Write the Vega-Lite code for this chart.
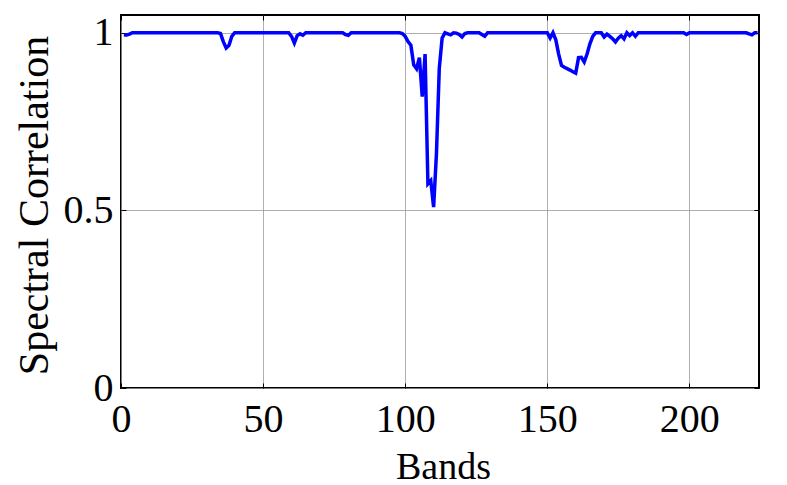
{
  "$schema": "https://vega.github.io/schema/vega-lite/v6.json",
  "width": 638,
  "height": 373,
  "autosize": "none",
  "padding": {"left": 121, "top": 15, "right": 28, "bottom": 97},
  "background": "white",
  "config": {
    "font": "Liberation Serif",
    "view": {"stroke": "black", "strokeWidth": 2},
    "axis": {
      "domain": false,
      "labelFont": "Liberation Serif",
      "labelFontSize": 40,
      "labelColor": "black",
      "titleFont": "Liberation Serif",
      "titleFontSize": 38,
      "titleFontWeight": "normal",
      "titleColor": "black",
      "gridColor": "#9a9a9a",
      "gridWidth": 0.8,
      "tickColor": "black",
      "tickWidth": 1,
      "tickSize": -5
    }
  },
  "data": {
    "values": [
      {"band": 1, "corr": 0.994}, {"band": 2, "corr": 0.994}, {"band": 3, "corr": 0.996}, {"band": 4, "corr": 1.0},
      {"band": 5, "corr": 1.0}, {"band": 6, "corr": 1.0}, {"band": 7, "corr": 1.0}, {"band": 8, "corr": 1.0},
      {"band": 9, "corr": 1.0}, {"band": 10, "corr": 1.0}, {"band": 11, "corr": 1.0}, {"band": 12, "corr": 1.0},
      {"band": 13, "corr": 1.0}, {"band": 14, "corr": 1.0}, {"band": 15, "corr": 1.0}, {"band": 16, "corr": 1.0},
      {"band": 17, "corr": 1.0}, {"band": 18, "corr": 1.0}, {"band": 19, "corr": 1.0}, {"band": 20, "corr": 1.0},
      {"band": 21, "corr": 1.0}, {"band": 22, "corr": 1.0}, {"band": 23, "corr": 1.0}, {"band": 24, "corr": 1.0},
      {"band": 25, "corr": 1.0}, {"band": 26, "corr": 1.0}, {"band": 27, "corr": 1.0}, {"band": 28, "corr": 1.0},
      {"band": 29, "corr": 1.0}, {"band": 30, "corr": 1.0}, {"band": 31, "corr": 1.0}, {"band": 32, "corr": 1.0},
      {"band": 33, "corr": 1.0}, {"band": 34, "corr": 1.0}, {"band": 35, "corr": 0.998}, {"band": 36, "corr": 0.975},
      {"band": 37, "corr": 0.957}, {"band": 38, "corr": 0.965}, {"band": 39, "corr": 0.99}, {"band": 40, "corr": 1.0},
      {"band": 41, "corr": 1.0}, {"band": 42, "corr": 1.0}, {"band": 43, "corr": 1.0}, {"band": 44, "corr": 1.0},
      {"band": 45, "corr": 1.0}, {"band": 46, "corr": 1.0}, {"band": 47, "corr": 1.0}, {"band": 48, "corr": 1.0},
      {"band": 49, "corr": 1.0}, {"band": 50, "corr": 1.0}, {"band": 51, "corr": 1.0}, {"band": 52, "corr": 1.0},
      {"band": 53, "corr": 1.0}, {"band": 54, "corr": 1.0}, {"band": 55, "corr": 1.0}, {"band": 56, "corr": 1.0},
      {"band": 57, "corr": 1.0}, {"band": 58, "corr": 1.0}, {"band": 59, "corr": 1.0}, {"band": 60, "corr": 0.99},
      {"band": 61, "corr": 0.971}, {"band": 62, "corr": 0.992}, {"band": 63, "corr": 0.997}, {"band": 64, "corr": 0.993},
      {"band": 65, "corr": 1.0}, {"band": 66, "corr": 1.0}, {"band": 67, "corr": 1.0}, {"band": 68, "corr": 1.0},
      {"band": 69, "corr": 1.0}, {"band": 70, "corr": 1.0}, {"band": 71, "corr": 1.0}, {"band": 72, "corr": 1.0},
      {"band": 73, "corr": 1.0}, {"band": 74, "corr": 1.0}, {"band": 75, "corr": 1.0}, {"band": 76, "corr": 1.0},
      {"band": 77, "corr": 1.0}, {"band": 78, "corr": 1.0}, {"band": 79, "corr": 0.995}, {"band": 80, "corr": 0.993},
      {"band": 81, "corr": 1.0}, {"band": 82, "corr": 1.0}, {"band": 83, "corr": 1.0}, {"band": 84, "corr": 1.0},
      {"band": 85, "corr": 1.0}, {"band": 86, "corr": 1.0}, {"band": 87, "corr": 1.0}, {"band": 88, "corr": 1.0},
      {"band": 89, "corr": 1.0}, {"band": 90, "corr": 1.0}, {"band": 91, "corr": 1.0}, {"band": 92, "corr": 1.0},
      {"band": 93, "corr": 1.0}, {"band": 94, "corr": 1.0}, {"band": 95, "corr": 1.0}, {"band": 96, "corr": 1.0},
      {"band": 97, "corr": 1.0}, {"band": 98, "corr": 1.0}, {"band": 99, "corr": 0.998}, {"band": 100, "corr": 0.99},
      {"band": 101, "corr": 0.975}, {"band": 102, "corr": 0.965}, {"band": 103, "corr": 0.91}, {"band": 104, "corr": 0.899},
      {"band": 105, "corr": 0.93}, {"band": 106, "corr": 0.82}, {"band": 107, "corr": 0.94}, {"band": 108, "corr": 0.575},
      {"band": 109, "corr": 0.584}, {"band": 110, "corr": 0.509}, {"band": 111, "corr": 0.66}, {"band": 112, "corr": 0.9},
      {"band": 113, "corr": 0.985}, {"band": 114, "corr": 1.0}, {"band": 115, "corr": 0.997}, {"band": 116, "corr": 0.994},
      {"band": 117, "corr": 1.0}, {"band": 118, "corr": 0.999}, {"band": 119, "corr": 0.995}, {"band": 120, "corr": 0.988},
      {"band": 121, "corr": 0.998}, {"band": 122, "corr": 1.0}, {"band": 123, "corr": 1.0}, {"band": 124, "corr": 1.0},
      {"band": 125, "corr": 1.0}, {"band": 126, "corr": 1.0}, {"band": 127, "corr": 0.995}, {"band": 128, "corr": 0.99},
      {"band": 129, "corr": 1.0}, {"band": 130, "corr": 1.0}, {"band": 131, "corr": 1.0}, {"band": 132, "corr": 1.0},
      {"band": 133, "corr": 1.0}, {"band": 134, "corr": 1.0}, {"band": 135, "corr": 1.0}, {"band": 136, "corr": 1.0},
      {"band": 137, "corr": 1.0}, {"band": 138, "corr": 1.0}, {"band": 139, "corr": 1.0}, {"band": 140, "corr": 1.0},
      {"band": 141, "corr": 1.0}, {"band": 142, "corr": 1.0}, {"band": 143, "corr": 1.0}, {"band": 144, "corr": 1.0},
      {"band": 145, "corr": 1.0}, {"band": 146, "corr": 1.0}, {"band": 147, "corr": 1.0}, {"band": 148, "corr": 1.0},
      {"band": 149, "corr": 1.0}, {"band": 150, "corr": 1.0}, {"band": 151, "corr": 0.985}, {"band": 152, "corr": 1.0},
      {"band": 153, "corr": 0.98}, {"band": 154, "corr": 0.94}, {"band": 155, "corr": 0.908}, {"band": 156, "corr": 0.903},
      {"band": 157, "corr": 0.899}, {"band": 158, "corr": 0.895}, {"band": 159, "corr": 0.89}, {"band": 160, "corr": 0.886},
      {"band": 161, "corr": 0.93}, {"band": 162, "corr": 0.931}, {"band": 163, "corr": 0.918}, {"band": 164, "corr": 0.94},
      {"band": 165, "corr": 0.969}, {"band": 166, "corr": 0.99}, {"band": 167, "corr": 1.0}, {"band": 168, "corr": 1.0},
      {"band": 169, "corr": 1.0}, {"band": 170, "corr": 0.988}, {"band": 171, "corr": 0.996}, {"band": 172, "corr": 0.99},
      {"band": 173, "corr": 0.983}, {"band": 174, "corr": 0.974}, {"band": 175, "corr": 0.985}, {"band": 176, "corr": 0.992},
      {"band": 177, "corr": 0.983}, {"band": 178, "corr": 1.0}, {"band": 179, "corr": 0.992}, {"band": 180, "corr": 1.0},
      {"band": 181, "corr": 0.99}, {"band": 182, "corr": 1.0}, {"band": 183, "corr": 1.0}, {"band": 184, "corr": 1.0},
      {"band": 185, "corr": 1.0}, {"band": 186, "corr": 1.0}, {"band": 187, "corr": 1.0}, {"band": 188, "corr": 1.0},
      {"band": 189, "corr": 1.0}, {"band": 190, "corr": 1.0}, {"band": 191, "corr": 1.0}, {"band": 192, "corr": 1.0},
      {"band": 193, "corr": 1.0}, {"band": 194, "corr": 1.0}, {"band": 195, "corr": 1.0}, {"band": 196, "corr": 1.0},
      {"band": 197, "corr": 1.0}, {"band": 198, "corr": 1.0}, {"band": 199, "corr": 0.995}, {"band": 200, "corr": 1.0},
      {"band": 201, "corr": 1.0}, {"band": 202, "corr": 1.0}, {"band": 203, "corr": 1.0}, {"band": 204, "corr": 1.0},
      {"band": 205, "corr": 1.0}, {"band": 206, "corr": 1.0}, {"band": 207, "corr": 1.0}, {"band": 208, "corr": 1.0},
      {"band": 209, "corr": 1.0}, {"band": 210, "corr": 1.0}, {"band": 211, "corr": 1.0}, {"band": 212, "corr": 1.0},
      {"band": 213, "corr": 1.0}, {"band": 214, "corr": 1.0}, {"band": 215, "corr": 1.0}, {"band": 216, "corr": 1.0},
      {"band": 217, "corr": 1.0}, {"band": 218, "corr": 1.0}, {"band": 219, "corr": 1.0}, {"band": 220, "corr": 1.0},
      {"band": 221, "corr": 0.997}, {"band": 222, "corr": 0.994}, {"band": 223, "corr": 1.0}, {"band": 224, "corr": 1.0}
    ]
  },
  "layer": [
    {
      "mark": {"type": "line", "color": "#0000ff", "strokeWidth": 3.5, "clip": true},
      "encoding": {
        "x": {
          "field": "band",
          "type": "quantitative",
          "scale": {"domain": [0, 224.5], "nice": false, "zero": false},
          "axis": {
            "orient": "bottom",
            "values": [0, 50, 100, 150, 200],
            "grid": true,
            "labelPadding": 16,
            "labelFlush": false,
            "title": "Bands",
            "titleX": 322,
            "titleY": 90,
            "titleAnchor": null,
            "titleAlign": "center",
            "titleBaseline": "alphabetic"
          }
        },
        "y": {
          "field": "corr",
          "type": "quantitative",
          "scale": {"domain": [0, 1.05], "nice": false, "zero": false},
          "axis": {
            "orient": "left",
            "values": [0, 0.5, 1],
            "format": "~g",
            "grid": true,
            "labelPadding": 13,
            "labelFlush": false,
            "title": "Spectral Correlation",
            "titleFontSize": 42,
            "titleAngle": 270,
            "titleX": -74,
            "titleY": 190,
            "titleAnchor": null,
            "titleAlign": "center",
            "titleBaseline": "alphabetic"
          }
        }
      }
    },
    {
      "mark": {"type": "line", "strokeOpacity": 0},
      "encoding": {
        "x": {
          "field": "band",
          "type": "quantitative",
          "scale": {"domain": [0, 224.5], "nice": false, "zero": false},
          "axis": {"orient": "top", "values": [0, 50, 100, 150, 200], "grid": false, "labels": false, "title": null}
        },
        "y": {
          "field": "corr",
          "type": "quantitative",
          "scale": {"domain": [0, 1.05], "nice": false, "zero": false},
          "axis": {"orient": "right", "values": [0, 0.5, 1], "grid": false, "labels": false, "title": null}
        }
      }
    }
  ],
  "resolve": {
    "scale": {"x": "independent", "y": "independent"},
    "axis": {"x": "independent", "y": "independent"}
  }
}
